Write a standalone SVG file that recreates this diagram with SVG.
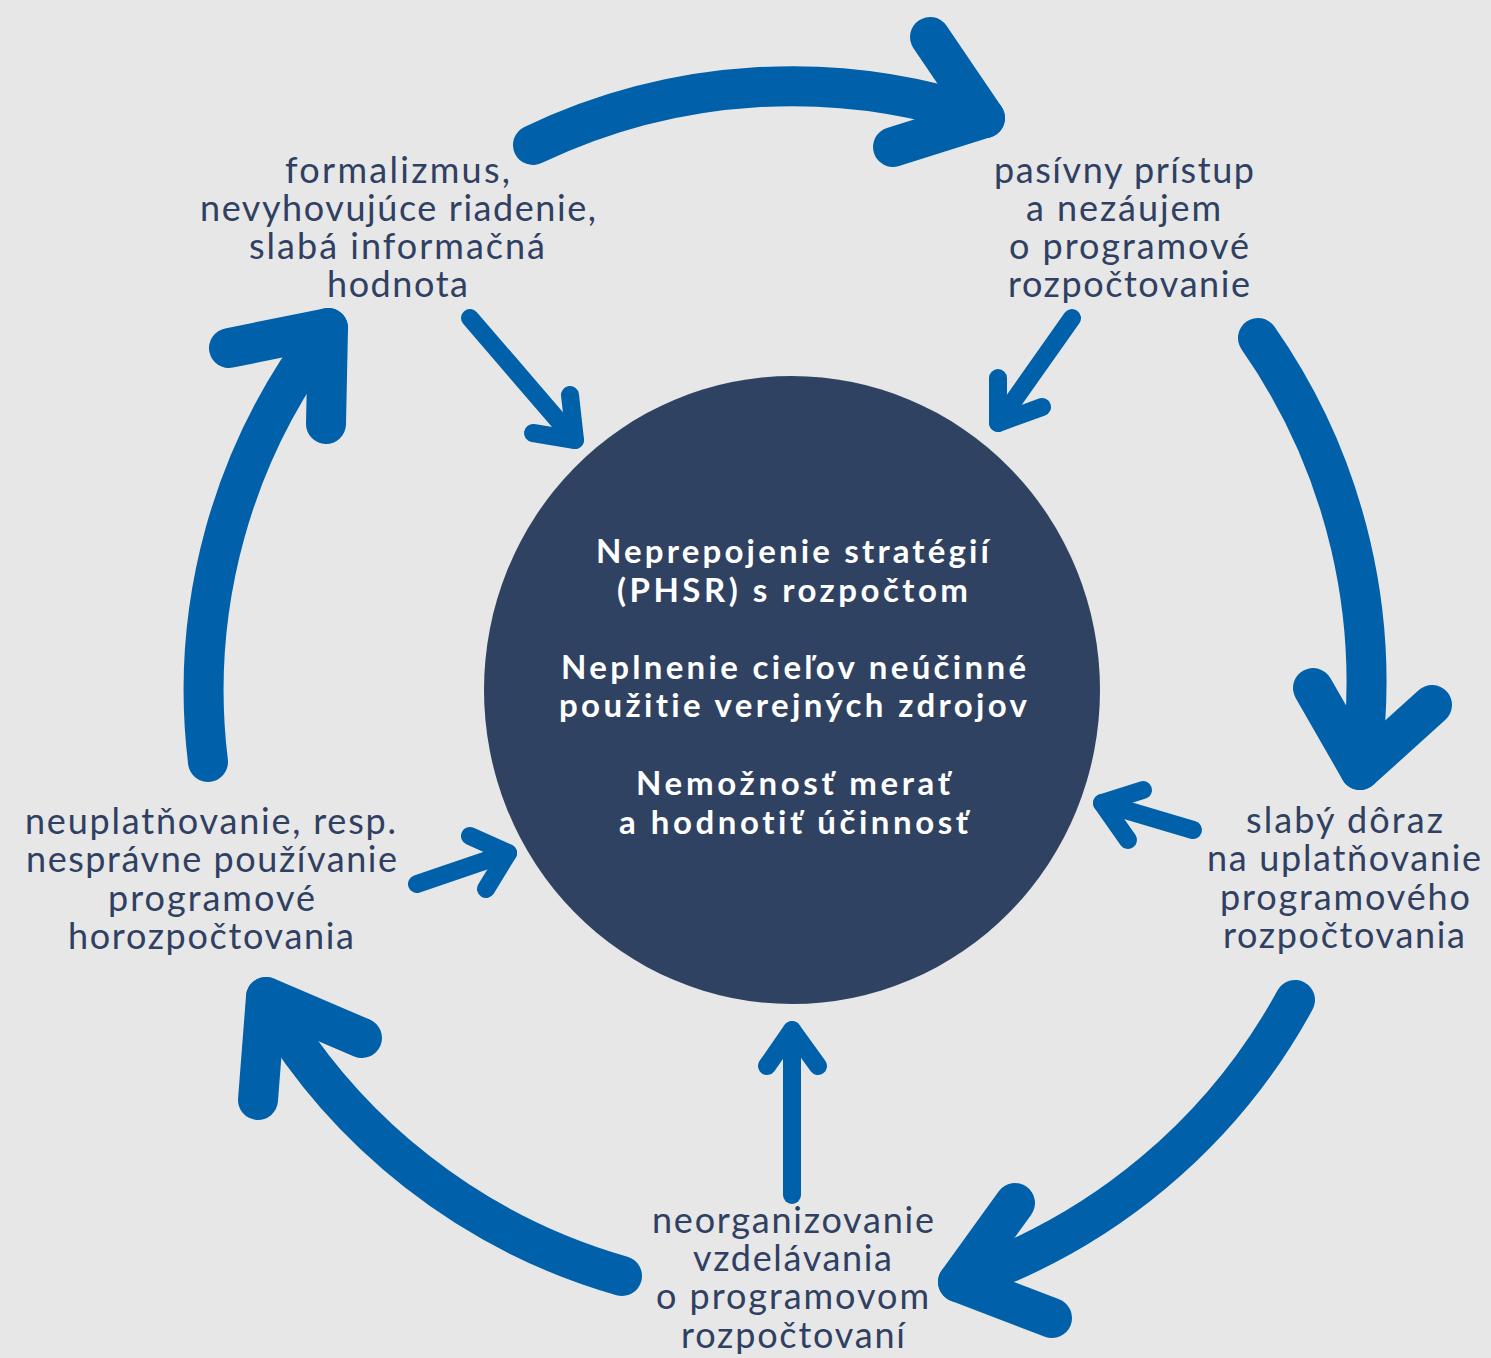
<svg xmlns="http://www.w3.org/2000/svg" width="1491" height="1358" viewBox="0 0 1491 1358">
<style>
.big{fill:none;stroke:#0060aa;stroke-width:40;stroke-linecap:round;stroke-linejoin:round}
.small{fill:none;stroke:#0060aa;stroke-width:18;stroke-linecap:round;stroke-linejoin:round}
.lbl{font-family:Lato,"Open Sans",sans-serif;font-size:36px;fill:#2f4062;font-variant-ligatures:none}
.ctr{font-family:Lato,"Open Sans",sans-serif;font-size:33px;font-weight:bold;fill:#ffffff;font-variant-ligatures:none}
</style>
<rect width="1491" height="1358" fill="#e7e7e7"/>
<g id="center">
<ellipse cx="792" cy="690" rx="308" ry="314" fill="#304262"/>
<text class="ctr" x="596" y="563" textLength="393" lengthAdjust="spacing">Neprepojenie stratégií</text>
<text class="ctr" x="617" y="602" textLength="351" lengthAdjust="spacing">(PHSR) s rozpočtom</text>
<text class="ctr" x="561" y="679" textLength="465" lengthAdjust="spacing">Neplnenie cieľov neúčinné</text>
<text class="ctr" x="559" y="717" textLength="468" lengthAdjust="spacing">použitie verejných zdrojov</text>
<text class="ctr" x="636" y="795" textLength="314" lengthAdjust="spacing">Nemožnosť merať</text>
<text class="ctr" x="619" y="834" textLength="349" lengthAdjust="spacing">a hodnotiť účinnosť</text>
</g>
<g id="node-formalizmus">
<text class="lbl" x="285" y="183" textLength="225" lengthAdjust="spacing">formalizmus,</text>
<text class="lbl" x="200" y="221" textLength="396" lengthAdjust="spacing">nevyhovujúce riadenie,</text>
<text class="lbl" x="249" y="259" textLength="296" lengthAdjust="spacing">slabá informačná</text>
<text class="lbl" x="327" y="297" textLength="141" lengthAdjust="spacing">hodnota</text>
</g>
<g id="node-pasivny">
<text class="lbl" x="994" y="183" textLength="260" lengthAdjust="spacing">pasívny prístup</text>
<text class="lbl" x="1026" y="221" textLength="195" lengthAdjust="spacing">a nezáujem</text>
<text class="lbl" x="1009" y="259" textLength="240" lengthAdjust="spacing">o programové</text>
<text class="lbl" x="1008" y="297" textLength="242" lengthAdjust="spacing">rozpočtovanie</text>
</g>
<g id="node-slaby">
<text class="lbl" x="1246" y="833" textLength="197" lengthAdjust="spacing">slabý dôraz</text>
<text class="lbl" x="1207" y="871" textLength="274" lengthAdjust="spacing">na uplatňovanie</text>
<text class="lbl" x="1220" y="910" textLength="250" lengthAdjust="spacing">programového</text>
<text class="lbl" x="1223" y="948" textLength="242" lengthAdjust="spacing">rozpočtovania</text>
</g>
<g id="node-neorganizovanie">
<text class="lbl" x="652" y="1233" textLength="282" lengthAdjust="spacing">neorganizovanie</text>
<text class="lbl" x="693" y="1271" textLength="199" lengthAdjust="spacing">vzdelávania</text>
<text class="lbl" x="656" y="1309" textLength="273" lengthAdjust="spacing">o programovom</text>
<text class="lbl" x="681" y="1348" textLength="224" lengthAdjust="spacing">rozpočtovaní</text>
</g>
<g id="node-neuplatnovanie">
<text class="lbl" x="25" y="834" textLength="371" lengthAdjust="spacing">neuplatňovanie, resp.</text>
<text class="lbl" x="26" y="872" textLength="371" lengthAdjust="spacing">nesprávne používanie</text>
<text class="lbl" x="108" y="911" textLength="207" lengthAdjust="spacing">programové</text>
<text class="lbl" x="68" y="949" textLength="286" lengthAdjust="spacing">horozpočtovania</text>
</g>
<g id="connectors">
<path class="big" d="M533,145 A600,600 0 0 1 985,118"/>
<path class="big" d="M930,37 L985,118 L893,147"/>
<path class="big" d="M1258,338 A600,600 0 0 1 1360,770"/>
<path class="big" d="M1313,688 L1360,770 L1432,705"/>
<path class="big" d="M1295,1000 A600,600 0 0 1 958,1282"/>
<path class="big" d="M1015,1203 L958,1282 L1052,1318"/>
<path class="big" d="M622,1276 A600,600 0 0 1 266,997"/>
<path class="big" d="M258,1100 L266,997 L362,1038"/>
<path class="big" d="M208,762 A590,590 0 0 1 328,328"/>
<path class="big" d="M229,348 L328,328 L326,424"/>
<path class="small" d="M470,318 L575,440"/>
<path class="small" d="M533,433 L575,440 L570,395"/>
<path class="small" d="M1072,318 L998,423"/>
<path class="small" d="M998,378 L998,423 L1042,407"/>
<path class="small" d="M1193,830 L1102,803"/>
<path class="small" d="M1143,790 L1102,803 L1128,840"/>
<path class="small" d="M417,884 L508,853"/>
<path class="small" d="M470,836 L508,853 L486,889"/>
<path class="small" d="M792,1195 L792,1030"/>
<path class="small" d="M767,1066 L792,1030 L818,1066"/>
</g>
</svg>
